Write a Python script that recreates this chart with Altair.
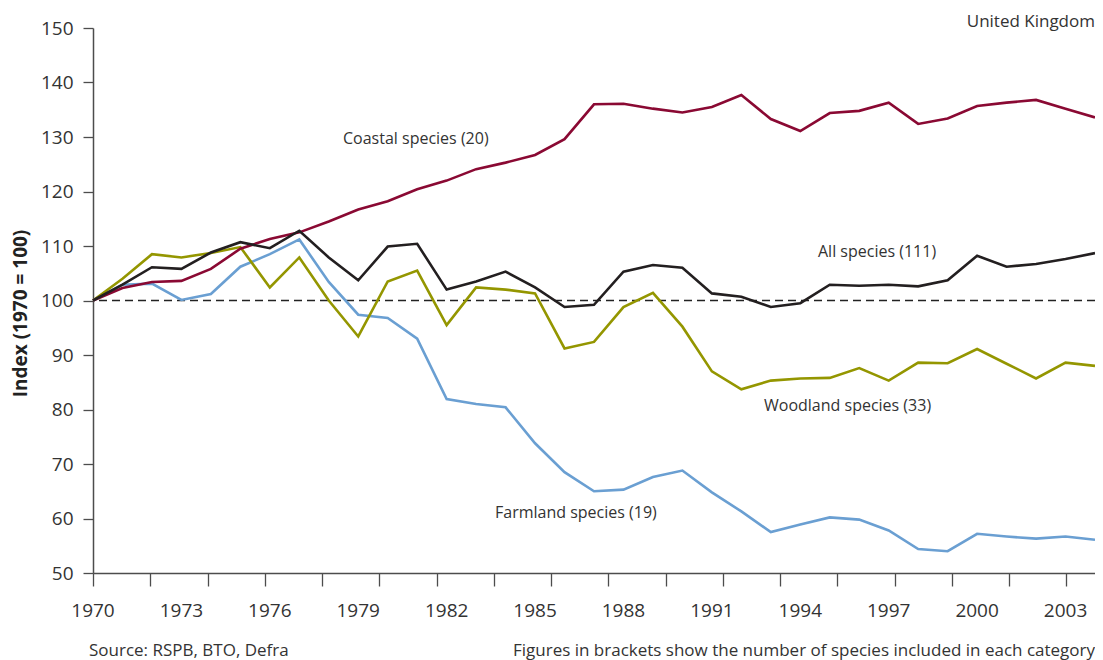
import altair as alt
import pandas as pd

years = list(range(1970, 2005))
coastal = [100, 102.3, 103.4, 103.6, 105.8, 109.5, 111.3, 112.5, 114.5, 116.7,
           118.2, 120.4, 122.0, 124.1, 125.3, 126.7, 129.6, 136.0, 136.1, 135.2,
           134.5, 135.5, 137.7, 133.3, 131.1, 134.4, 134.8, 136.3, 132.4, 133.4,
           135.7, 136.3, 136.8, 135.2, 133.6]
all_species = [100, 102.9, 106.1, 105.8, 108.8, 110.7, 109.6, 112.8, 107.9, 103.7,
               109.9, 110.4, 102.0, 103.5, 105.3, 102.4, 98.8, 99.2, 105.3, 106.5,
               106.0, 101.3, 100.7, 98.8, 99.5, 102.9, 102.7, 102.9, 102.6, 103.7,
               108.2, 106.2, 106.7, 107.6, 108.7]
woodland = [100, 104.0, 108.5, 107.9, 108.7, 109.8, 102.4, 107.9, 100.0, 93.4,
            103.5, 105.5, 95.5, 102.4, 102.0, 101.3, 91.2, 92.4, 98.8, 101.4,
            95.2, 87.0, 83.7, 85.3, 85.7, 85.8, 87.6, 85.3, 88.6, 88.5,
            91.1, 88.4, 85.7, 88.6, 88.0]
farmland = [100, 102.9, 103.1, 100.1, 101.2, 106.2, 108.5, 111.2, 103.4, 97.4,
            96.8, 93.0, 81.9, 81.0, 80.4, 73.8, 68.5, 65.0, 65.3, 67.6,
            68.8, 64.8, 61.3, 57.5, 58.9, 60.2, 59.8, 57.8, 54.4, 54.0,
            57.2, 56.7, 56.3, 56.7, 56.1]

series_names = ["Farmland", "Woodland", "Coastal", "All"]
series_values = [farmland, woodland, coastal, all_species]
series_colors = ["#6A9FD2", "#949600", "#8A0933", "#231F20"]

y_ticks = list(range(50, 151, 10))
x_label_years = list(range(1970, 2004, 3))
x_tick_count = 36  # tick marks are evenly spaced and do not fall on the years

labels = ["Coastal species (20)", "All species (111)", "Woodland species (33)", "Farmland species (19)"]

rows = []
for name, vals in zip(series_names, series_values):
    for yr, v in zip(years, vals):
        rows.append({"year": yr, "index": v, "series": name, "order": series_names.index(name)})
df = pd.DataFrame(rows)

x_min, x_max = years[0], years[-1]
tick_positions = [x_min + k * (x_max - x_min) / (x_tick_count - 1) for k in range(x_tick_count)]

FONT = "Open Sans"
TXT = "#333333"
AX = "#4D4D4D"
W, H = 1002, 545

xs = alt.Scale(domain=[x_min, x_max], nice=False, zero=False)
ys = alt.Scale(domain=[50, 150], nice=False, zero=False)

lines = alt.Chart(df).mark_line(strokeWidth=2.6, strokeJoin="miter").encode(
    x=alt.X("year:Q", scale=xs, axis=alt.Axis(
        values=tick_positions, labels=False, title=None, grid=False,
        tickSize=13, tickColor=AX, domainColor=AX, domainWidth=1.5, tickWidth=1.3)),
    y=alt.Y("index:Q", scale=ys, axis=alt.Axis(
        values=y_ticks, title="Index (1970 = 100)", grid=False,
        tickSize=10, tickColor=AX, domainColor=AX, domainWidth=1.5, tickWidth=1.3,
        labelFontSize=19, labelFont=FONT, labelColor=TXT, labelPadding=10,
        titleFont=FONT, titleFontSize=19, titleFontWeight="bold", titleColor="#222222",
        titleX=-73, titleY=285, titleAngle=-90, titleBaseline="middle", titleAlign="center")),
    color=alt.Color("series:N", scale=alt.Scale(domain=series_names, range=series_colors), legend=None),
    order=alt.Order("order:Q"),
    detail="series:N",
)

xlabels = alt.Chart(pd.DataFrame({"year": x_label_years})).mark_text(
    font=FONT, fontSize=19, color=TXT, baseline="middle", align="center").encode(
    x=alt.X("year:Q", scale=xs), y=alt.value(H + 38), text=alt.Text("year:Q", format="d"))

ref = alt.Chart(pd.DataFrame({"y": [100]})).mark_rule(
    color="#222222", strokeWidth=1.3, strokeDash=[8, 5]).encode(y=alt.Y("y:Q", scale=ys))

def txt(text, x, y, align="left", size=16):
    return alt.Chart(pd.DataFrame({"t": [text]})).mark_text(
        align=align, baseline="middle", font=FONT, fontSize=size, color=TXT).encode(
        x=alt.value(x), y=alt.value(y), text="t:N")

annots = [
    txt(labels[0], 250, 111),
    txt(labels[1], 725, 224),
    txt(labels[2], 671, 378),
    txt(labels[3], 402, 485),
    txt("United Kingdom", W, -6, align="right", size=17),
    txt("Source: RSPB, BTO, Defra", -4, 623, size=17),
    txt("Figures in brackets show the number of species included in each category", W, 623, align="right", size=17),
]

chart = alt.layer(ref, lines, xlabels, *annots).properties(
    width=W, height=H,
    autosize=alt.AutoSizeParams(type="none"),
    padding={"left": 85, "top": 20, "right": 0, "bottom": 90},
).configure_view(stroke=None)

chart.save("out.html", embed_options={"renderer": "svg", "actions": False})
